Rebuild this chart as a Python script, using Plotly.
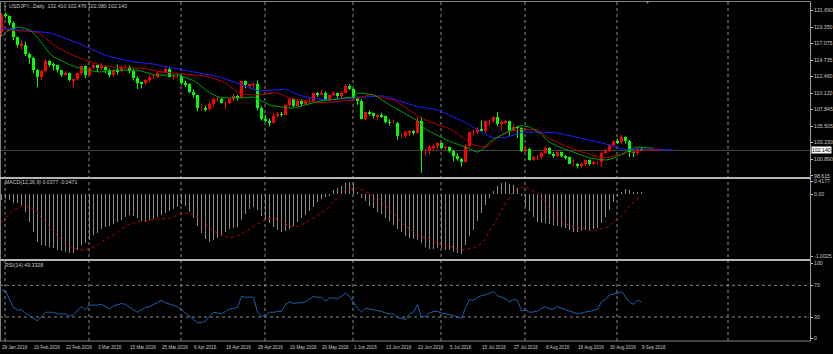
import plotly.graph_objects as go

TITLE = "USDJPY...Daily  102.410 102.476 102.080 102.140"

OPEN = [118.70,121.10,120.90,119.90,117.90,116.80,116.90,115.60,115.00,113.30,
112.40,113.20,114.60,114.10,114.00,113.30,112.60,112.90,111.90,112.10,
112.90,113.90,112.70,113.60,114.00,113.70,113.80,113.40,112.60,113.30,
113.20,113.80,113.80,113.20,112.30,111.60,111.50,111.90,112.40,112.40,
113.00,113.00,113.50,112.40,112.50,112.50,111.60,111.40,110.30,109.90,
108.10,108.10,107.90,108.60,109.30,109.30,108.80,108.80,109.30,109.80,
109.50,111.80,111.20,111.30,111.40,108.10,106.50,106.30,106.00,107.00,
107.20,107.10,108.50,109.30,108.40,109.00,108.60,109.10,109.10,110.10,
109.90,110.20,109.20,109.90,110.20,109.70,110.20,111.10,110.70,109.50,
109.00,106.50,107.50,107.30,106.90,107.00,106.90,106.10,106.00,106.00,
104.20,104.20,104.70,104.80,104.60,106.20,102.20,102.20,102.60,102.70,
103.20,102.50,102.60,102.00,101.30,100.90,100.50,102.70,104.70,104.70,
105.20,104.80,106.20,106.20,106.80,105.80,106.10,106.20,104.80,105.40,
105.30,102.00,102.30,100.80,101.20,101.20,101.80,102.50,101.70,101.30,
101.90,101.30,101.20,100.30,100.30,99.90,100.20,100.80,100.20,100.50,
100.50,101.80,102.00,102.90,103.40,103.30,104.00,103.40,101.90,101.80,
102.410]

HIGH = [121.30,121.40,121.00,120.10,118.00,117.50,117.30,115.80,115.20,113.50,
113.40,114.90,114.80,114.40,114.10,113.40,113.20,113.00,112.20,113.00,
114.00,114.00,113.80,114.30,114.10,114.30,113.90,113.60,113.40,114.10,
114.00,114.10,114.00,113.60,112.50,111.70,112.10,112.60,112.80,113.20,
113.20,113.80,113.80,112.70,112.90,112.80,111.90,111.50,110.60,109.90,
108.70,108.40,108.90,109.50,109.70,109.50,109.00,109.40,110.00,109.90,
111.90,111.90,111.40,111.60,111.90,108.30,107.10,106.60,107.40,107.50,
107.50,108.60,109.40,109.40,109.20,109.30,109.20,109.40,110.20,110.30,
110.60,110.40,110.00,110.40,110.20,110.40,111.40,111.40,110.80,109.60,
109.30,107.60,107.70,107.40,107.20,107.40,107.00,106.50,106.40,106.10,
104.50,104.90,105.00,105.00,106.80,106.80,102.50,102.90,103.00,103.30,
103.30,102.80,102.70,102.20,101.70,101.10,103.00,104.80,105.00,105.40,
106.30,106.30,106.40,106.90,107.50,106.30,106.40,106.30,105.80,105.50,
105.40,102.80,102.50,101.40,101.50,102.00,102.70,102.60,101.90,102.10,
102.00,101.50,101.30,100.90,100.40,100.40,100.90,100.90,100.70,100.70,
102.00,102.40,103.00,103.50,103.80,104.30,104.10,103.60,102.10,102.50,
102.476]

LOW = [118.00,120.60,119.60,117.50,116.50,116.20,115.30,114.20,112.90,110.98,
111.90,113.00,113.80,113.30,113.00,112.40,112.50,111.80,110.90,111.90,
112.60,112.20,112.60,113.50,113.10,113.40,112.90,112.30,112.40,112.70,
113.00,113.60,112.90,111.90,110.70,110.80,111.30,111.60,112.10,112.20,
112.90,113.00,112.30,112.00,112.20,111.30,111.00,110.10,109.50,107.60,
107.70,107.60,107.60,108.20,109.00,108.70,107.90,108.60,109.00,109.10,
109.40,110.80,110.70,110.80,107.70,106.30,106.10,105.50,105.90,106.70,
106.80,107.10,108.20,108.20,108.30,108.30,108.50,108.70,108.90,109.60,
109.80,109.10,109.00,109.70,109.40,109.40,110.20,110.60,109.30,108.50,
106.50,106.30,107.00,106.60,106.30,106.70,105.90,105.60,105.90,103.60,
103.90,103.90,104.10,104.30,104.50,99.00,101.40,101.60,102.10,102.30,
102.30,102.20,101.80,100.60,100.70,99.90,100.50,102.60,104.20,104.40,
104.70,104.60,105.60,105.90,105.50,104.90,105.80,104.20,104.80,103.90,
101.90,101.80,100.70,100.70,100.80,100.90,101.60,101.60,101.10,101.20,
101.20,100.90,100.20,99.90,99.60,99.70,99.90,100.00,100.10,100.20,
99.80,101.70,101.90,102.60,103.00,103.00,103.10,101.20,101.20,101.50,
102.080]

CLOSE = [121.10,120.90,119.90,117.90,116.80,116.90,115.60,115.00,113.30,112.40,
113.20,114.60,114.10,114.00,113.30,112.60,112.90,111.90,112.10,112.90,
113.90,112.70,113.60,114.00,113.70,113.80,113.40,112.60,113.30,113.20,
113.80,113.80,113.20,112.30,111.60,111.50,111.90,112.40,112.40,113.00,
113.00,113.50,112.40,112.50,112.50,111.60,111.40,110.30,109.90,108.10,
108.10,107.90,108.60,109.30,109.30,108.80,108.80,109.30,109.80,109.50,
111.80,111.20,111.30,111.40,108.10,106.50,106.30,106.00,107.00,107.20,
107.10,108.50,109.30,108.40,109.00,108.60,109.10,109.10,110.10,109.90,
110.20,109.20,109.90,110.20,109.70,110.20,111.10,110.70,109.50,109.00,
106.50,107.50,107.30,106.90,107.00,106.90,106.10,106.00,106.00,104.20,
104.20,104.70,104.80,104.60,106.20,102.20,102.20,102.60,102.70,103.20,
102.50,102.60,102.00,101.30,100.90,100.50,102.70,104.70,104.70,105.20,
104.80,106.20,106.20,106.80,105.80,106.10,106.20,104.80,105.40,105.30,
102.00,102.30,100.80,101.20,101.20,101.80,102.50,101.70,101.30,101.90,
101.30,101.20,100.30,100.30,99.90,100.20,100.80,100.20,100.50,100.50,
101.80,102.00,102.90,103.40,103.30,104.00,103.40,101.90,101.80,102.410,
102.140]

# Alligator lines (jaw shifted 8, teeth 5, lips 3 bars forward)
JAW = [119.2,119.15,119.05,119.0,118.95,118.9,118.9,118.85,118.85,118.8,
118.75,118.7,118.55,118.4,118.2,118.0,117.8,117.55,117.35,117.15,
116.9,116.65,116.4,116.1,115.8,115.6,115.4,115.25,115.1,115.0,
114.85,114.75,114.6,114.5,114.45,114.4,114.35,114.3,114.2,114.05,
113.95,113.8,113.7,113.55,113.45,113.35,113.25,113.15,113.05,112.95,
112.85,112.75,112.65,112.55,112.45,112.3,112.1,111.9,111.7,111.45,
111.2,111.0,110.85,110.65,110.5,110.45,110.5,110.55,110.6,110.65,
110.7,110.7,110.5,110.2,109.95,109.75,109.6,109.45,109.35,109.3,
109.25,109.2,109.2,109.25,109.3,109.35,109.4,109.45,109.5,109.55,
109.6,109.65,109.7,109.75,109.8,109.75,109.7,109.5,109.3,109.1,
108.9,108.7,108.55,108.4,108.25,108.15,108.05,107.95,107.85,107.8,
107.55,107.3,107.05,106.8,106.6,106.4,106.05,105.7,105.35,105.0,
104.7,104.4,104.1,103.9,103.9,103.9,103.95,104.1,104.3,104.5,
104.65,104.7,104.7,104.7,104.7,104.7,104.7,104.7,104.65,104.55,
104.45,104.3,104.15,104.05,103.95,103.85,103.7,103.6,103.5,103.35,
103.2,103.05,102.85,102.65,102.5,102.35,102.3,102.25,102.2,102.2,
102.2,102.25,102.3,102.3,102.3,102.25,102.2,102.2,102.2]

TEETH = [118.95,118.9,118.9,118.85,118.85,118.8,118.8,118.8,118.7,118.55,
118.3,117.8,117.3,116.9,116.5,116.2,115.9,115.65,115.4,115.15,
114.95,114.7,114.5,114.3,114.15,114.0,113.9,113.8,113.75,113.7,
113.7,113.7,113.65,113.65,113.6,113.6,113.55,113.4,113.3,113.2,
113.1,113.05,113.0,112.95,112.9,112.85,112.8,112.8,112.75,112.7,
112.65,112.5,112.35,112.2,112.05,111.8,111.5,111.1,110.7,110.3,
110.1,109.95,109.9,109.9,109.9,109.95,110.05,110.15,110.2,110.2,
110.0,109.7,109.45,109.3,109.2,109.1,109.0,108.95,108.9,108.85,
108.8,108.8,108.85,108.9,108.95,109.05,109.1,109.15,109.2,109.4,
109.6,109.8,109.9,109.85,109.7,109.5,109.35,109.3,109.2,108.9,
108.55,108.2,107.75,107.3,106.95,106.65,106.4,106.15,105.9,105.65,
105.5,105.4,105.15,104.85,104.5,104.05,103.6,103.25,102.95,102.75,
102.6,102.6,102.9,103.4,103.9,104.25,104.55,104.75,104.9,105.0,
105.05,105.05,105.05,105.0,105.0,104.6,104.1,103.8,103.6,103.3,
103.0,102.75,102.5,102.3,102.1,101.95,101.8,101.6,101.45,101.3,
101.1,101.1,101.2,101.35,101.45,101.55,101.7,101.85,101.95,102.05,
102.1,102.15,102.2,102.2,102.2,102.2]

LIPS = [118.0,118.6,119.0,119.25,119.35,119.3,119.15,118.95,118.5,117.9,
117.2,116.4,115.7,115.2,114.9,114.6,114.35,114.1,113.9,113.7,
113.55,113.4,113.3,113.15,113.1,113.1,113.2,113.3,113.35,113.35,
113.35,113.35,113.4,113.4,113.35,113.2,113.0,112.85,112.7,112.65,
112.65,112.65,112.7,112.7,112.65,112.5,112.3,112.1,111.9,111.5,
111.0,110.6,110.2,109.9,109.65,109.5,109.45,109.45,109.45,109.45,
109.5,109.55,109.6,109.6,109.3,109.0,108.7,108.5,108.35,108.25,
108.15,108.1,108.05,108.05,108.2,108.4,108.6,108.75,108.85,108.95,
109.05,109.1,109.15,109.2,109.3,109.4,109.5,109.55,109.6,110.1,
110.15,110.05,109.95,109.9,109.6,109.2,108.8,108.5,108.2,107.9,
107.6,107.3,107.0,106.7,106.3,105.7,105.1,104.8,104.5,104.2,
103.9,103.65,103.4,103.2,103.0,102.8,102.65,102.4,102.1,101.9,
102.2,102.8,103.3,103.7,104.0,104.3,104.65,105.0,105.3,105.5,
105.6,105.55,105.4,105.1,104.8,104.4,103.8,103.3,103.0,102.7,
102.5,102.3,102.1,101.9,101.7,101.5,101.25,101.1,101.0,100.9,
100.8,100.8,100.9,101.05,101.3,101.6,101.9,102.2,102.45,102.6,
102.6,102.55,102.5,102.45]

MACD_MAIN = [-0.10,-0.08,-0.10,-0.15,-0.15,-0.19,-0.29,-0.45,-0.61,-0.77,
-0.82,-0.84,-0.86,-0.87,-0.90,-0.92,-0.94,-0.95,-0.95,-0.90,
-0.82,-0.79,-0.74,-0.66,-0.63,-0.56,-0.53,-0.52,-0.48,-0.45,
-0.42,-0.37,-0.34,-0.35,-0.39,-0.44,-0.45,-0.42,-0.40,-0.37,
-0.34,-0.31,-0.27,-0.24,-0.21,-0.16,-0.19,-0.29,-0.39,-0.52,
-0.63,-0.73,-0.77,-0.74,-0.71,-0.68,-0.61,-0.56,-0.55,-0.53,
-0.42,-0.32,-0.24,-0.21,-0.26,-0.35,-0.40,-0.47,-0.53,-0.58,
-0.61,-0.60,-0.56,-0.52,-0.45,-0.39,-0.34,-0.27,-0.21,-0.13,
-0.08,-0.05,-0.02,0.06,0.10,0.13,0.18,0.19,0.18,0.03,
-0.06,-0.12,-0.19,-0.23,-0.29,-0.32,-0.39,-0.44,-0.50,-0.56,
-0.61,-0.68,-0.71,-0.73,-0.74,-0.79,-0.85,-0.89,-0.89,-0.87,
-0.87,-0.90,-0.90,-0.94,-0.95,-0.97,-0.82,-0.68,-0.58,-0.44,
-0.31,-0.18,-0.06,0.05,0.13,0.18,0.19,0.16,0.15,0.10,
-0.03,-0.21,-0.27,-0.37,-0.45,-0.47,-0.47,-0.48,-0.50,-0.52,
-0.53,-0.55,-0.58,-0.61,-0.61,-0.60,-0.58,-0.58,-0.56,-0.55,
-0.47,-0.37,-0.26,-0.13,-0.02,0.04,0.08,0.06,0.04,0.03,
0.0377]

MACD_SIGNAL = [-0.45,-0.39,-0.32,-0.26,-0.23,-0.19,-0.19,-0.21,-0.24,-0.29,
-0.39,-0.45,-0.53,-0.60,-0.68,-0.74,-0.81,-0.84,-0.87,-0.89,
-0.90,-0.90,-0.88,-0.85,-0.82,-0.77,-0.74,-0.69,-0.66,-0.61,
-0.56,-0.53,-0.48,-0.47,-0.45,-0.44,-0.44,-0.42,-0.41,-0.40,
-0.40,-0.40,-0.39,-0.37,-0.34,-0.31,-0.31,-0.31,-0.34,-0.37,
-0.44,-0.48,-0.55,-0.60,-0.63,-0.66,-0.69,-0.71,-0.70,-0.68,
-0.65,-0.60,-0.56,-0.53,-0.48,-0.44,-0.41,-0.40,-0.39,-0.41,
-0.44,-0.48,-0.52,-0.53,-0.52,-0.50,-0.47,-0.42,-0.39,-0.34,
-0.31,-0.26,-0.19,-0.13,-0.06,0.00,0.05,0.08,0.09,0.10,
0.07,0.04,0.00,-0.03,-0.06,-0.13,-0.19,-0.26,-0.32,-0.39,
-0.45,-0.52,-0.56,-0.61,-0.65,-0.68,-0.71,-0.74,-0.77,-0.79,
-0.81,-0.82,-0.84,-0.86,-0.89,-0.90,-0.90,-0.88,-0.87,-0.83,
-0.79,-0.71,-0.60,-0.50,-0.39,-0.27,-0.15,-0.05,0.03,0.08,
0.10,0.11,0.08,0.05,0.00,-0.08,-0.16,-0.24,-0.31,-0.37,
-0.44,-0.48,-0.51,-0.52,-0.54,-0.56,-0.57,-0.59,-0.60,-0.58,
-0.56,-0.55,-0.52,-0.45,-0.40,-0.35,-0.27,-0.19,-0.13,-0.08,
-0.0471]

RSI = [64,63,52,42,39,39,35,31,28,25,
30,36,36,36,34,33.5,34,31,33,38,
43,39,45,45,45,46,43,40,44,46,
47,46,42,39,36,39,42,43,46,48,
51,48,46,45,43,39,35,31,27,23,
23,25,31,36,35,34,37,40,41,42,
56,55,55,55,36,31,32,36,36,37,
37,46,49,47,48,48,49,52,56,55,
55,50,54,54,53,56,60,56,48,41,
36,41,40,39,38.5,37,35,34,34,29,
28,27,34,36,46,30,31,35,37,37,
35,34,33,32,30,28.5,42,52,51,55,
57,58,60,62,57,55,53,49,52,51,
38,39,36,36.5,37.5,41,43,40,40,43,
41,39,38,36,34,35,36.5,37,38.5,40,
49,52,58,59,60,62,56,49,46,51,
49.3328]

DATE_LABELS = ["29 Jan 2016", "10 Feb 2016", "22 Feb 2016", "3 Mar 2016", "15 Mar 2016",
               "25 Mar 2016", "6 Apr 2016", "18 Apr 2016", "28 Apr 2016", "10 May 2016",
               "20 May 2016", "1 Jun 2016", "13 Jun 2016", "23 Jun 2016", "5 Jul 2016",
               "15 Jul 2016", "27 Jul 2016", "8 Aug 2016", "18 Aug 2016", "30 Aug 2016",
               "9 Sep 2016"]
DATE_LABEL_STEP = 8  # one label every 8 bars

PRICE_TICKS = [121.690, 119.350, 117.075, 114.735, 112.460, 110.120, 107.845,
               105.505, 103.230, 100.890, 98.615]
LAST_PRICE = 102.140
MACD_TEXT = "MACD(12,26,9) 0.0377 -0.0471"
RSI_TEXT = "RSI(14) 49.3328"

# ---------------- geometry (pixels) ----------------
W, H = 833, 354
MR, MT, MB = 23, 2, 13
PW = W - MR              # plot width 810
PH = H - MT - MB         # plot height 339


def yp(px):
    """figure pixel row -> paper y"""
    return (H - MB - px) / PH


def xp(px):
    return px / PW


PX_PER_BAR = 4.0
X0 = 1.5                # pixel centre of first bar
XR = [(0 - X0) / PX_PER_BAR, (PW - X0) / PX_PER_BAR]

FONT = "Liberation Sans, Arial, sans-serif"
TXT = "#c8c8c8"
BULL = "#ff0000"
BEAR = "#00ff00"

n = len(CLOSE)
idx = list(range(n))

bull_x, bull_b, bull_h, bear_x, bear_b, bear_h = [], [], [], [], [], []
bull_wx, bull_wy, bear_wx, bear_wy = [], [], [], []
for i in idx:
    o, hi, lo, c = OPEN[i], HIGH[i], LOW[i], CLOSE[i]
    if c >= o:
        bull_x.append(i); bull_b.append(o); bull_h.append(c - o)
        bull_wx += [i, i, None]; bull_wy += [lo, hi, None]
    else:
        bear_x.append(i); bear_b.append(c); bear_h.append(o - c)
        bear_wx += [i, i, None]; bear_wy += [lo, hi, None]

fig = go.Figure()
fig.add_trace(go.Scatter(x=bull_wx, y=bull_wy, mode="lines", line=dict(color=BULL, width=1),
                         hoverinfo="skip", yaxis="y"))
fig.add_trace(go.Scatter(x=bear_wx, y=bear_wy, mode="lines", line=dict(color=BEAR, width=1),
                         hoverinfo="skip", yaxis="y"))
fig.add_trace(go.Bar(x=bull_x, y=bull_h, base=bull_b, width=0.75, marker=dict(color=BULL, line=dict(width=0)),
                     yaxis="y"))
fig.add_trace(go.Bar(x=bear_x, y=bear_h, base=bear_b, width=0.75, marker=dict(color=BEAR, line=dict(width=0)),
                     yaxis="y"))
fig.add_trace(go.Scatter(x=list(range(len(JAW))), y=JAW, mode="lines",
                         line=dict(color="#1e1eff", width=1), yaxis="y"))
fig.add_trace(go.Scatter(x=list(range(len(TEETH))), y=TEETH, mode="lines",
                         line=dict(color="#b40000", width=1), yaxis="y"))
fig.add_trace(go.Scatter(x=list(range(len(LIPS))), y=LIPS, mode="lines",
                         line=dict(color="#00a000", width=1), yaxis="y"))

fig.add_trace(go.Bar(x=idx, y=MACD_MAIN, width=0.25, marker=dict(color="#8a8a8a", line=dict(width=0)),
                     yaxis="y2"))
fig.add_trace(go.Scatter(x=idx, y=MACD_SIGNAL, mode="lines",
                         line=dict(color="#c80000", width=1, dash="dot"), yaxis="y2"))
fig.add_trace(go.Scatter(x=idx, y=RSI, mode="lines",
                         line=dict(color="#1f5fae", width=1), yaxis="y3"))

# axis ranges from pixel calibration
p_per_px = 1 / 7.168
main_top = PRICE_TICKS[0] + (10.3 - 2) * p_per_px
main_bot = PRICE_TICKS[0] - (177 - 10.3) * p_per_px
macd_top = (194 - 179) / 62.0
macd_bot = (194 - 259) / 62.0
rsi_k = 40 / (317 - 285.3)
rsi_top = 70 + (285.3 - 261) * rsi_k
rsi_bot = 30 - (341 - 317) * rsi_k

axfont = dict(family=FONT, size=5.2, color=TXT)
common_y = dict(side="right", anchor="x", showgrid=False, zeroline=False, showline=False,
                ticks="outside", ticklen=2, tickcolor="#c0c0c0", tickfont=axfont, fixedrange=True)

fig.update_layout(
    width=W, height=H, margin=dict(l=0, r=MR, t=MT, b=MB),
    paper_bgcolor="#000000", plot_bgcolor="#000000",
    showlegend=False, barmode="overlay", bargap=0,
    xaxis=dict(range=XR, domain=[0, 1], anchor="y3", showgrid=False, zeroline=False,
               showticklabels=False, ticks="", showline=False, fixedrange=True),
    yaxis=dict(domain=[yp(177), yp(2)], range=[main_bot, main_top],
               tickvals=PRICE_TICKS, ticktext=[f"{v:.3f}" for v in PRICE_TICKS], **common_y),
    yaxis2=dict(domain=[yp(259), yp(179)], range=[macd_bot, macd_top],
                tickvals=[(194 - 181) / 62.0, 0, (194 - 256) / 62.0],
                ticktext=["0.4177", "0.00", "-1.0025"], **common_y),
    yaxis3=dict(domain=[0, yp(261)], range=[rsi_bot, rsi_top],
                tickvals=[30 + (317 - 263.3) * rsi_k, 70, 30, 30 - (338.3 - 317) * rsi_k],
                ticktext=["100", "70", "30", "0"], **common_y),
)

GRID = "#8c8c8c"
FRAME = "#a0a0a0"
shapes = []
# monthly separators (bar units)
for gx in [0.875, 21.875, 44.875, 65.875, 87.875, 109.875, 130.875, 153.875, 181.625]:
    shapes.append(dict(type="line", xref="x", yref="paper", x0=gx, x1=gx, y0=0, y1=1,
                       line=dict(color=GRID, width=1, dash="dot"), layer="below"))
# RSI levels
for lv in (70, 30):
    shapes.append(dict(type="line", xref="paper", yref="y3", x0=0, x1=1, y0=lv, y1=lv,
                       line=dict(color=GRID, width=1, dash="dot"), layer="below"))
# last price line
shapes.append(dict(type="line", xref="paper", yref="y", x0=0, x1=1, y0=LAST_PRICE, y1=LAST_PRICE,
                   line=dict(color="#464646", width=1), layer="below"))
# frame
shapes.append(dict(type="line", xref="paper", yref="paper", x0=xp(0.5), x1=xp(0.5), y0=0, y1=1,
                   line=dict(color="#808080", width=1)))
shapes.append(dict(type="line", xref="paper", yref="paper", x0=0, x1=1, y0=yp(1.5), y1=yp(1.5),
                   line=dict(color="#808080", width=1)))
shapes.append(dict(type="line", xref="paper", yref="paper", x0=xp(810.5), x1=xp(810.5), y0=yp(341), y1=yp(1.5),
                   line=dict(color=FRAME, width=1)))
shapes.append(dict(type="line", xref="paper", yref="paper", x0=0, x1=xp(810.5), y0=yp(341), y1=yp(341),
                   line=dict(color="#808080", width=1)))
for sy in (178, 260):
    shapes.append(dict(type="line", xref="paper", yref="paper", x0=0, x1=xp(811), y0=yp(sy), y1=yp(sy),
                       line=dict(color="#b4b4b4", width=2)))
fig.update_layout(shapes=shapes)

ann = []
small = dict(family=FONT, size=5.2, color=TXT)
datefont = dict(family=FONT, size=4.6, color=TXT)
ann.append(dict(text=TITLE, xref="paper", yref="paper", x=xp(7), y=yp(6), xanchor="left", yanchor="middle",
                showarrow=False, font=small))
ann.append(dict(text="▼", xref="paper", yref="paper", x=xp(1), y=yp(6), xanchor="left", yanchor="middle",
                showarrow=False, font=dict(family=FONT, size=4, color=TXT)))
ann.append(dict(text=MACD_TEXT, xref="paper", yref="paper", x=xp(3), y=yp(182), xanchor="left",
                yanchor="middle", showarrow=False, font=small))
ann.append(dict(text=RSI_TEXT, xref="paper", yref="paper", x=xp(3), y=yp(265), xanchor="left",
                yanchor="middle", showarrow=False, font=small))
for k, lab in enumerate(DATE_LABELS):
    ann.append(dict(text=lab, xref="x", yref="paper", x=k * DATE_LABEL_STEP - 0.3, y=yp(347),
                    xanchor="left", yanchor="middle", showarrow=False, font=datefont))
ann.append(dict(text=f"{LAST_PRICE:.3f}", xref="paper", yref="y", x=xp(811), y=LAST_PRICE,
                xanchor="left", yanchor="middle", showarrow=False,
                font=dict(family=FONT, size=5.2, color="#000000"), bgcolor="#ffffff",
                borderpad=0))
ann.append(dict(text="▼", xref="paper", yref="paper", x=xp(647.7), y=yp(2.5), xanchor="center",
                yanchor="middle", showarrow=False, font=dict(family=FONT, size=5, color="#7890b0")))
fig.update_layout(annotations=ann)

fig.write_html("out.html")
